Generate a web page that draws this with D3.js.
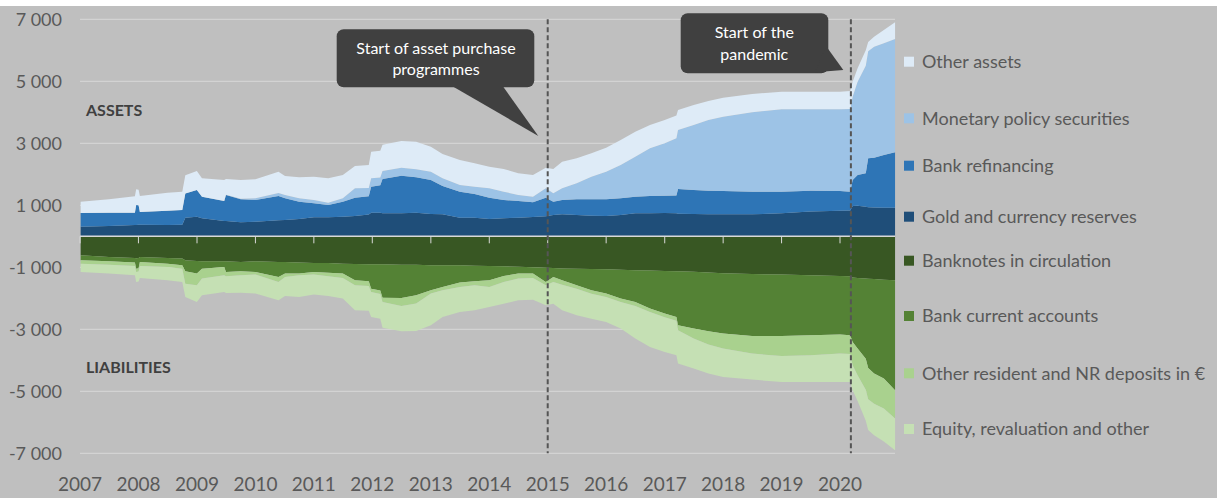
<!DOCTYPE html>
<html>
<head>
<meta charset="utf-8">
<script src="https://cdn.jsdelivr.net/npm/d3@7"></script>
<style>
  html, body { margin: 0; padding: 0; background: #fff; }
  svg { display: block; font-family: Lato, "Open Sans", sans-serif; }
</style>
</head>
<body>
<svg id="chart" width="1217" height="498"></svg>
<script>
// eurosystem balance sheet, EUR bn
const dates = ["2007-01-05","2007-07-01","2007-12-10","2007-12-18","2008-01-02","2008-01-10","2008-07-01","2008-10-01","2008-10-20","2008-12-31",
  "2009-02-01","2009-06-20","2009-07-01","2009-10-01","2010-01-01","2010-05-25","2010-07-05","2010-10-01","2011-01-01","2011-04-01",
  "2011-07-01","2011-09-15","2011-12-10","2011-12-25","2012-02-20","2012-03-05","2012-07-01","2012-10-01","2013-01-01","2013-03-15",
  "2013-07-01","2013-10-01","2014-01-01","2014-04-01","2014-07-01","2014-10-01","2014-12-20","2015-02-05","2015-04-01","2015-07-01",
  "2015-10-01","2016-01-01","2016-04-01","2016-07-01","2016-10-01","2017-01-01","2017-03-15","2017-03-25","2017-07-01","2017-10-01",
  "2018-01-01","2018-07-01","2019-01-01","2019-07-01","2020-01-01","2020-03-05","2020-03-20","2020-04-20","2020-06-10","2020-06-25",
  "2020-08-01","2020-10-01","2020-12-10"];

// assets
const goldReserves = [312,333,365,365,370,370,365,370,600,634, 580,494,494,451,473,516,527,559,613,613,
  634,656,700,763,763,740,742,763,720,710, 602,602,559,580,602,623,645,688,710,688,
  666,656,688,742,742,753,740,730,720,710, 710,710,742,796,828,830,978,989,957,935, 930,925,925];
const bankRefinancing = [441,430,398,645,630,415,463,480,780,860, 699,646,839,742,699,784,699,559,451,397,
  484,591,590,839,887,1110,1214,1139,1096,913, 838,763,688,592,538,473,602,430,462,505,
  527,537,538,537,559,559,580,797,774,763, 752,730,698,677,634,610,839,989,1075,1581, 1607,1698,1784];
const monetaryPolicySecurities = [0,0,0,0,0,0,0,0,0,0, 0,0,7,22,58,100,107,108,108,76,
  108,301,270,268,250,260,258,258,269,247, 215,237,301,268,193,183,301,269,376,516,
  731,893,1074,1290,1537,1687,1840,1903,2096,2279, 2397,2559,2656,2623,2634,2670,2687,3010,3468,3450, 3580,3601,3655];
const otherAssets = [365,430,527,506,500,515,580,590,590,613, 591,677,510,602,608,686,613,677,752,784,
  752,720,740,860,860,840,860,892,806,785, 807,752,699,731,699,699,667,785,860,807,
  753,774,807,807,752,753,740,644,645,613, 613,591,570,570,570,577,484,430,500,300, 320,430,538];

// liabilities (plotted below zero)
const banknotes = [613,667,699,705,700,667,699,720,774,796, 806,806,806,828,806,828,828,849,860,860,
  882,892,900,903,903,905,914,914,935,935, 935,946,957,970,985,1000,1018,1025,1035,1048,
  1058,1064,1080,1095,1105,1118,1125,1127,1145,1165, 1193,1215,1236,1258,1279,1290,1333,1345,1365,1370, 1380,1400,1419];
const bankCurrentAccounts = [161,139,150,338,330,161,183,215,355,408, 237,183,344,301,344,484,376,355,290,312,
  322,527,550,785,847,1075,1075,989,807,699, 559,505,462,309,219,204,455,287,384,532,
  684,785,930,1023,1228,1376,1477,1743,1833,1899, 1946,1999,1978,1935,1892,1903,2075,2278,2585,2880, 3049,3190,3548];
const otherDeposits = [108,108,108,107,105,129,107,108,398,376, 322,269,140,129,86,161,107,54,86,118,
  140,161,150,107,110,140,261,267,107,108, 140,129,215,194,161,140,107,161,140,108,
  110,110,110,130,110,120,120,162,322,430, 484,570,645,645,613,607,752,860,1000,1010, 971,968,913];
const equityOther = [268,290,301,323,325,387,430,430,430,538, 538,537,540,559,613,591,613,699,645,634,
  666,807,800,807,800,830,814,883,1021,860, 806,807,645,699,699,699,645,699,828,860,
  804,804,858,1052,1126,1116,1116,1075,968,935, 914,839,839,860,914,900,807,828,1000,990, 1020,1062,1022];

const yTicks = [7000, 5000, 3000, 1000, -1000, -3000, -5000, -7000];
const years = [2007,2008,2009,2010,2011,2012,2013,2014,2015,2016,2017,2018,2019,2020];

const assetKeys = ["gold", "refi", "mps", "other"];
const liabKeys = ["notes", "bca", "deposits", "equity"];
const colors = {
  gold: "#1f4e79", refi: "#2e75b6", mps: "#9dc3e6", other: "#deebf7",
  notes: "#385723", bca: "#548235", deposits: "#a9d18e", equity: "#c5e0b4"
};
const legend = [
  ["other", "Other assets"],
  ["mps", "Monetary policy securities"],
  ["refi", "Bank refinancing"],
  ["gold", "Gold and currency reserves"],
  ["notes", "Banknotes in circulation"],
  ["bca", "Bank current accounts"],
  ["deposits", "Other resident and NR deposits in €"],
  ["equity", "Equity, revaluation and other"]
];

const parse = d3.timeParse("%Y-%m-%d");
const rows = dates.map((d, i) => ({
  date: parse(d),
  gold: goldReserves[i], refi: bankRefinancing[i], mps: monetaryPolicySecurities[i], other: otherAssets[i],
  notes: -banknotes[i], bca: -bankCurrentAccounts[i], deposits: -otherDeposits[i], equity: -equityOther[i]
}));

const svg = d3.select("#chart");
const W = 1217, H = 498;
const left = 80, right = 895;

const x = d3.scaleTime()
  .domain([new Date(2007, 0, 1), new Date(2020, 0, 1)])
  .range([left, 840]);
const y = d3.scaleLinear().domain([-7000, 7000]).range([453.3, 19.3]);

svg.append("rect").attr("width", W).attr("height", H).attr("fill", "#fff");
svg.append("rect").attr("y", 6).attr("width", W).attr("height", H - 6).attr("fill", "#bfbfbf");

// gridlines
svg.append("g").selectAll("line")
  .data(yTicks)
  .join("line")
  .attr("x1", left).attr("x2", right)
  .attr("y1", d => y(d)).attr("y2", d => y(d))
  .attr("stroke", "#d9d9d9").attr("stroke-width", 1);

// stacked areas
const area = d3.area()
  .x(d => x(d.data.date))
  .y0(d => y(d[0]))
  .y1(d => y(d[1]));

const assets = d3.stack().keys(assetKeys)(rows);
const liabs = d3.stack().keys(liabKeys)(rows);

svg.append("g").selectAll("path")
  .data(assets.concat(liabs))
  .join("path")
  .attr("fill", d => colors[d.key])
  .attr("d", area);

// zero line with year ticks
const fmt = d3.formatLocale({decimal: ".", thousands: " ", grouping: [3], currency: ["", ""], minus: "-"}).format(",d");
svg.append("line")
  .attr("x1", left).attr("x2", right)
  .attr("y1", y(0)).attr("y2", y(0))
  .attr("stroke", "#d9d9d9").attr("stroke-width", 1.5);
svg.append("g").selectAll("line")
  .data(years)
  .join("line")
  .attr("x1", d => x(new Date(d, 0, 1))).attr("x2", d => x(new Date(d, 0, 1)))
  .attr("y1", y(0)).attr("y2", y(0) + 7)
  .attr("stroke", "#d9d9d9").attr("stroke-width", 1);

// axis labels
svg.append("g").selectAll("text")
  .data(yTicks)
  .join("text")
  .attr("x", 62).attr("y", d => y(d))
  .attr("dy", "0.36em")
  .attr("text-anchor", "end")
  .attr("fill", "#595959")
  .attr("font-size", 18)
  .text(d => fmt(d));

svg.append("g").selectAll("text")
  .data(years)
  .join("text")
  .attr("x", d => x(new Date(d, 0, 1))).attr("y", 491)
  .attr("text-anchor", "middle")
  .attr("fill", "#595959")
  .attr("font-size", 19)
  .text(d => d);

// side labels
svg.append("text").attr("x", 86).attr("y", 115.5)
  .attr("font-size", 16).attr("font-weight", "bold").attr("fill", "#404040")
  .text("ASSETS");
svg.append("text").attr("x", 86).attr("y", 372.5)
  .attr("font-size", 16).attr("font-weight", "bold").attr("fill", "#404040")
  .text("LIABILITIES");

// event lines
const events = [parse("2015-01-01"), parse("2020-03-09")];
svg.append("g").selectAll("line")
  .data(events)
  .join("line")
  .attr("x1", d => x(d)).attr("x2", d => x(d))
  .attr("y1", y(7000)).attr("y2", y(-7000))
  .attr("stroke", "#555").attr("stroke-width", 2)
  .attr("stroke-dasharray", "5,3");

// callouts
const callouts = [
  {box: [336.7, 29.3, 197.6, 58], tail: [[452, 86], [502.7, 86], [538.3, 136]],
    cx: 436, lines: ["Start of asset purchase", "programmes"], base: [54.3, 75]},
  {box: [680.7, 13.3, 147.6, 60], tail: [[826, 46], [843.3, 70], [815, 72.3]],
    cx: 754.3, lines: ["Start of the", "pandemic"], base: [38.3, 59.5]}
];
const cg = svg.append("g").selectAll("g").data(callouts).join("g");
cg.append("rect")
  .attr("x", d => d.box[0]).attr("y", d => d.box[1])
  .attr("width", d => d.box[2]).attr("height", d => d.box[3])
  .attr("rx", 7).attr("fill", "#404040");
cg.append("polygon")
  .attr("points", d => d.tail.map(p => p.join(",")).join(" "))
  .attr("fill", "#404040");
cg.each(function(d) {
  const g = d3.select(this);
  d.lines.forEach((t, i) => {
    g.append("text")
      .attr("x", d.cx).attr("y", d.base[i])
      .attr("text-anchor", "middle")
      .attr("fill", "#fff")
      .attr("font-size", 16)
      .text(t);
  });
});

// legend
const legendY = [61.7, 118.3, 165.7, 216.7, 260.7, 316, 373.3, 429];
const lg = svg.append("g").selectAll("g")
  .data(legend)
  .join("g")
  .attr("transform", (d, i) => `translate(904,${legendY[i]})`);
lg.append("rect")
  .attr("x", 0).attr("y", -5)
  .attr("width", 10).attr("height", 10)
  .attr("fill", d => colors[d[0]]);
lg.append("text")
  .attr("x", 18).attr("dy", "0.36em")
  .attr("fill", "#595959")
  .attr("font-size", 18)
  .text(d => d[1]);
</script>
</body>
</html>
